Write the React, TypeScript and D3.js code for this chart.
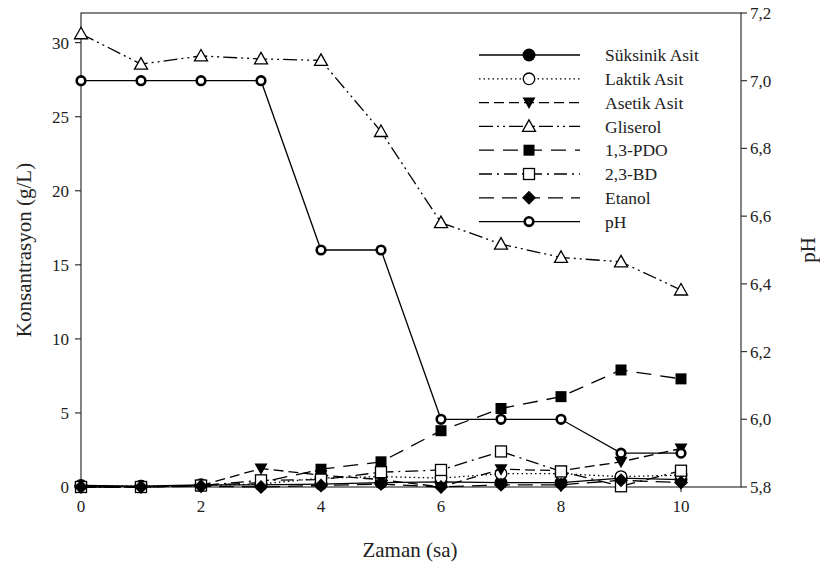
import React from "react";
import * as d3 from "d3";

const hours = [0, 1, 2, 3, 4, 5, 6, 7, 8, 9, 10];

const suksinik = [0.1, 0.05, 0.15, 0.15, 0.2, 0.3, 0.35, 0.3, 0.3, 0.6, 0.5];
const laktik = [0.05, 0.05, 0.1, 0.2, 0.6, 0.7, 0.6, 0.9, 0.9, 0.7, 0.8];
const asetik = [0.0, 0.0, 0.1, 1.25, 0.8, 0.5, 0.0, 1.2, 1.1, 1.7, 2.6];
const gliserol = [30.6, 28.55, 29.1, 28.9, 28.8, 24.0, 17.85, 16.4, 15.5, 15.2, 13.3];
const pdo = [0.0, 0.0, 0.1, 0.3, 1.2, 1.7, 3.8, 5.3, 6.1, 7.9, 7.3];
const bd = [0.0, 0.0, 0.1, 0.45, 0.5, 1.0, 1.15, 2.4, 1.05, 0.05, 1.1];
const etanol = [0.0, 0.0, 0.05, 0.0, 0.1, 0.2, 0.0, 0.15, 0.15, 0.45, 0.3];
const ph = [7.0, 7.0, 7.0, 7.0, 6.5, 6.5, 6.0, 6.0, 6.0, 5.9, 5.9];

const leftTicks = [0, 5, 10, 15, 20, 25, 30];
const rightTicks = [5.8, 6.0, 6.2, 6.4, 6.6, 6.8, 7.0, 7.2];
const xTicks = [0, 2, 4, 6, 8, 10];

type Marker = "circle" | "openCircle" | "triDown" | "openTriUp" | "square" | "openSquare" | "diamond" | "phCircle";

interface Series {
  name: string;
  values: number[];
  dash: string;
  marker: Marker;
  axis: "left" | "right";
}

const series: Series[] = [
  { name: "Süksinik Asit", values: suksinik, dash: "", marker: "circle", axis: "left" },
  { name: "Laktik Asit", values: laktik, dash: "1.5,3", marker: "openCircle", axis: "left" },
  { name: "Asetik Asit", values: asetik, dash: "10,5", marker: "triDown", axis: "left" },
  { name: "Gliserol", values: gliserol, dash: "14,4,2,4,2,4", marker: "openTriUp", axis: "left" },
  { name: "1,3-PDO", values: pdo, dash: "15,9", marker: "square", axis: "left" },
  { name: "2,3-BD", values: bd, dash: "13,5,2,5", marker: "openSquare", axis: "left" },
  { name: "Etanol", values: etanol, dash: "15,8", marker: "diamond", axis: "left" },
  { name: "pH", values: ph, dash: "", marker: "phCircle", axis: "right" },
];

const W = 820;
const H = 571;
const left = 81;
const right = 741;
const top = 13;
const bottom = 487;
const font = "'Liberation Serif', 'Times New Roman', serif";
const tickSize = 17;
const titleSize = 21;
const legendSize = 17.5;

const x = d3.scaleLinear().domain([0, 11]).range([left, right]);
const yL = d3.scaleLinear().domain([0, 32]).range([bottom, top]);
const yR = d3.scaleLinear().domain([5.8, 7.2]).range([bottom, top]);

function MarkerShape({ kind, cx, cy }: { kind: Marker; cx: number; cy: number }) {
  const k = "#000";
  switch (kind) {
    case "circle":
      return <circle cx={cx} cy={cy} r={6.5} fill={k} />;
    case "openCircle":
      return <circle cx={cx} cy={cy} r={5.8} fill="#fff" stroke={k} strokeWidth={1.3} />;
    case "triDown":
      return <path d={`M${cx - 6.5},${cy - 5} L${cx + 6.5},${cy - 5} L${cx},${cy + 6.5} Z`} fill={k} />;
    case "openTriUp":
      return (
        <path
          d={`M${cx - 6.5},${cy + 5} L${cx + 6.5},${cy + 5} L${cx},${cy - 6.5} Z`}
          fill="#fff"
          stroke={k}
          strokeWidth={1.3}
        />
      );
    case "square":
      return <rect x={cx - 5.5} y={cy - 5.5} width={11} height={11} fill={k} />;
    case "openSquare":
      return <rect x={cx - 5.5} y={cy - 5.5} width={11} height={11} fill="#fff" stroke={k} strokeWidth={1.3} />;
    case "diamond":
      return <path d={`M${cx},${cy - 7} L${cx + 7},${cy} L${cx},${cy + 7} L${cx - 7},${cy} Z`} fill={k} />;
    case "phCircle":
      return <circle cx={cx} cy={cy} r={4.3} fill="#fff" stroke={k} strokeWidth={2.6} />;
  }
}

export default function App() {
  const legendX0 = 479;
  const legendX1 = 580;
  const legendMid = 529;
  const legendText = 605;
  const legendY0 = 55;
  const legendStep = 23.8;

  return (
    <svg width={W} height={H} style={{ display: "block", position: "absolute", left: 0, top: 0 }}>
      <rect width={W} height={H} fill="#fff" />

      {/* frame */}
      <rect x={left} y={top} width={right - left} height={bottom - top} fill="none" stroke="#333" strokeWidth={1.2} />

      {/* left axis */}
      {leftTicks.map((t) => (
        <g key={`l${t}`}>
          <line x1={left - 6} x2={left} y1={yL(t)} y2={yL(t)} stroke="#333" strokeWidth={1.2} />
          <text x={left - 12} y={yL(t)} dy="0.35em" textAnchor="end" fontFamily={font} fontSize={tickSize} fill="#222">
            {t}
          </text>
        </g>
      ))}

      {/* right axis */}
      {rightTicks.map((t) => (
        <g key={`r${t}`}>
          <line x1={right} x2={right + 6} y1={yR(t)} y2={yR(t)} stroke="#333" strokeWidth={1.2} />
          <text x={right + 9} y={yR(t)} dy="0.35em" textAnchor="start" fontFamily={font} fontSize={tickSize} fill="#222">
            {t.toFixed(1).replace(".", ",")}
          </text>
        </g>
      ))}

      {/* bottom axis */}
      {xTicks.map((t) => (
        <g key={`x${t}`}>
          <line x1={x(t)} x2={x(t)} y1={bottom} y2={bottom + 5} stroke="#333" strokeWidth={1.2} />
          <text x={x(t)} y={bottom + 25} textAnchor="middle" fontFamily={font} fontSize={tickSize} fill="#222">
            {t}
          </text>
        </g>
      ))}

      {/* axis titles */}
      <text
        transform={`translate(24,${(top + bottom) / 2}) rotate(-90)`}
        textAnchor="middle"
        dy="0.35em"
        fontFamily={font}
        fontSize={titleSize}
        fill="#222"
      >
        Konsantrasyon (g/L)
      </text>
      <text
        transform={`translate(808,${(top + bottom) / 2}) rotate(-90)`}
        textAnchor="middle"
        dy="0.35em"
        fontFamily={font}
        fontSize={titleSize}
        fill="#222"
      >
        pH
      </text>
      <text x={(left + right) / 2 - 1} y={557} textAnchor="middle" fontFamily={font} fontSize={titleSize} fill="#222">
        Zaman (sa)
      </text>

      {/* series */}
      {series.map((s) => {
        const yScale = s.axis === "left" ? yL : yR;
        const line = d3
          .line<number>()
          .x((_, i) => x(hours[i]))
          .y((v) => yScale(v));
        return (
          <g key={s.name}>
            <path d={line(s.values) ?? ""} fill="none" stroke="#000" strokeWidth={1.3} strokeDasharray={s.dash || undefined} />
            {s.values.map((v, i) => (
              <MarkerShape key={i} kind={s.marker} cx={x(hours[i])} cy={yScale(v)} />
            ))}
          </g>
        );
      })}

      {/* legend */}
      {series.map((s, i) => {
        const ly = legendY0 + i * legendStep;
        return (
          <g key={`lg${s.name}`}>
            <line
              x1={legendX0}
              x2={legendX1}
              y1={ly}
              y2={ly}
              stroke="#000"
              strokeWidth={1.3}
              strokeDasharray={s.dash || undefined}
            />
            <MarkerShape kind={s.marker} cx={legendMid} cy={ly} />
            <text x={legendText} y={ly} dy="0.35em" fontFamily={font} fontSize={legendSize} fill="#222">
              {s.name}
            </text>
          </g>
        );
      })}
    </svg>
  );
}
